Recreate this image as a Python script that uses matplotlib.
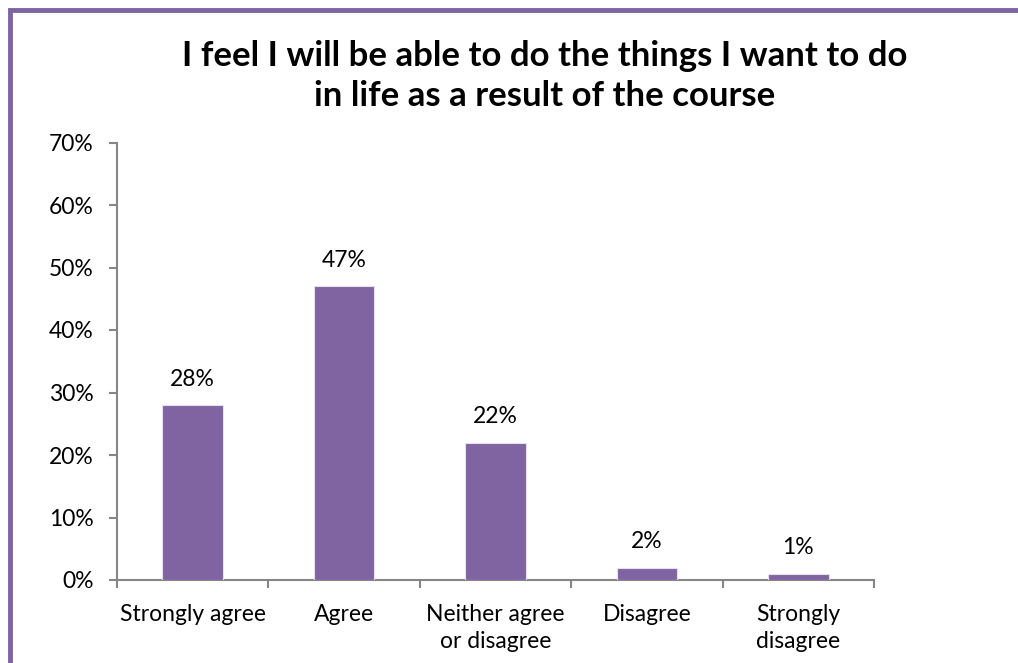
import matplotlib
matplotlib.use("Agg")
import matplotlib.pyplot as plt
from matplotlib.patches import Rectangle
from matplotlib.ticker import FuncFormatter, FixedLocator, NullFormatter

plt.rcParams['font.family'] = ['Lato', 'DejaVu Sans']

categories = ["Strongly agree", "Agree", "Neither agree\nor disagree", "Disagree", "Strongly\ndisagree"]
values = [28, 47, 22, 2, 1]
yticks = [0, 10, 20, 30, 40, 50, 60, 70]
title = "I feel I will be able to do the things I want to do\nin life as a result of the course"

purple = "#8064A2"
axis_grey = "#868686"

W, H = 1018, 663
fig = plt.figure(figsize=(W / 100, H / 100), dpi=100)

# purple frame along the top and left edges
fig.patches.append(Rectangle((9.5 / W, -0.1), 1.2, 1 - 10.5 / H + 0.1,
                             transform=fig.transFigure, fill=False,
                             edgecolor=purple, linewidth=3.5))

ax = fig.add_axes([117 / W, 1 - 580 / H, (874 - 117) / W, (580 - 142.5) / H])
x = list(range(len(categories)))
bars = ax.bar(x, values, width=0.4, color=purple, edgecolor="#E6E0EC", linewidth=0.8, zorder=3)

for xi, v in zip(x, values):
    ax.annotate(f"{v}%", (xi, v), xytext=(0, 11), textcoords="offset points",
                ha="center", va="bottom", fontsize=16.5, color="black")

ax.set_xlim(-0.5, len(categories) - 0.5)
ax.set_ylim(0, 70)
ax.set_yticks(yticks)
ax.yaxis.set_major_formatter(FuncFormatter(lambda v, p: f"{v:.0f}%"))
ax.set_xticks(x)
ax.set_xticklabels(categories, fontsize=16.5, linespacing=1.4)
ax.xaxis.set_minor_locator(FixedLocator([i - 0.5 for i in range(len(categories) + 1)]))
ax.xaxis.set_minor_formatter(NullFormatter())
ax.tick_params(axis="x", which="major", length=0, pad=17)
ax.tick_params(axis="x", which="minor", length=6, width=1.5, color=axis_grey, direction="out")
ax.tick_params(axis="y", length=6, width=1.5, color=axis_grey, labelsize=16.5, pad=11)

for side in ("top", "right"):
    ax.spines[side].set_visible(False)
for side in ("left", "bottom"):
    ax.spines[side].set_color(axis_grey)
    ax.spines[side].set_linewidth(1.5)

fig.text(545 / W, 1 - 76 / H, title, ha="center", va="center", fontsize=25,
         fontweight="bold", linespacing=1.28)

fig.savefig("out.png", dpi=100)
